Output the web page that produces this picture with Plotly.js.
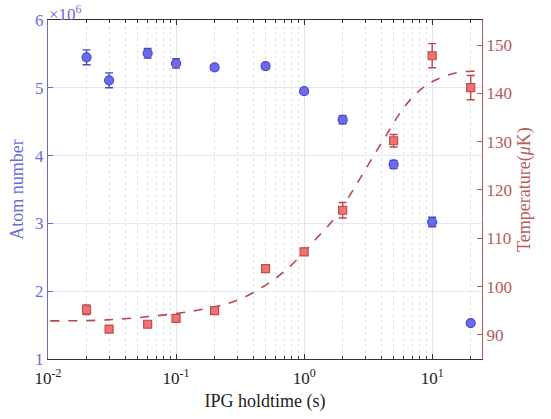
<!DOCTYPE html>
<html>
<head>
<meta charset="utf-8">
<script src="https://cdn.plot.ly/plotly-3.0.1.min.js"></script>
<style>html,body{margin:0;padding:0;background:#fff;}#chart{width:551px;height:419px;}</style>
</head>
<body>
<div id="chart"></div>
<script>
// Hold times (s)
const holdTime = [0.02, 0.03, 0.06, 0.1, 0.2, 0.5, 1, 2, 5, 10, 20];
// Atom number (x10^6)
const atomNumber = [5.45, 5.11, 5.51, 5.36, 5.30, 5.32, 4.95, 4.53, 3.87, 3.02, 1.53];
const atomErr    = [0.11, 0.11, 0.07, 0.07, 0.04, 0.04, 0.04, 0.06, 0.06, 0.07, 0.03];
// Temperature (uK)
const temperature = [95.2, 91.2, 92.2, 93.4, 95.0, 103.7, 107.2, 115.8, 130.2, 147.8, 141.2];
const tempErr     = [1.0, 0.5, 0.4, 0.6, 0.4, 0.5, 0.7, 1.6, 1.3, 2.5, 2.5];
// Fit curve
const fitX = [0.0104, 0.0288, 0.0948, 0.1945, 0.316, 0.542, 0.778, 0.989, 1.256, 1.694, 2.286, 2.738, 3.475, 4.426, 5.623, 7.145, 9.08, 11.55, 15.6, 21.04, 24.5];
const fitT = [92.9, 93.1, 94.35, 95.74, 97.4, 100.9, 104.2, 107.0, 110.05, 113.85, 119.0, 122.4, 127.0, 131.5, 136.0, 139.4, 141.8, 143.2, 144.3, 144.6, 144.6];
// Axis ticks
const xTickVals = [0.01, 0.1, 1, 10];
const xTickText = ['10<sup>-2</sup>', '10<sup>-1</sup>', '10<sup>0</sup>', '10<sup>1</sup>'];
const yLeftTicks = [1, 2, 3, 4, 5, 6];
const yRightTicks = [90, 100, 110, 120, 130, 140, 150];

const minorVals = [];
[0.01, 0.1, 1, 10].forEach(d => { for (let k = 2; k <= 9; k++) { if (d * k <= 24.5) minorVals.push(d * k); } });

const blue = '#6a6ad8';
const red = '#b85a5a';
const font = 'Liberation Serif, Times New Roman, serif';

const traces = [
  {
    x: fitX, y: fitT, yaxis: 'y2', mode: 'lines', type: 'scatter',
    line: {color: '#b94848', width: 1.6, dash: 'dash', shape: 'spline'},
    hoverinfo: 'skip', showlegend: false
  },
  {
    x: holdTime, y: temperature, yaxis: 'y2', mode: 'markers', type: 'scatter',
    marker: {symbol: 'square', size: 8, color: '#f07272', line: {color: '#c24c4c', width: 1.2}},
    error_y: {type: 'data', array: tempErr, visible: true, color: '#b84a4a', thickness: 1.4, width: 4},
    showlegend: false
  },
  {
    x: holdTime, y: atomNumber, yaxis: 'y', mode: 'markers', type: 'scatter',
    marker: {symbol: 'circle', size: 9, color: '#6b6bf0', line: {color: '#4b4bc0', width: 1.2}},
    error_y: {type: 'data', array: atomErr, visible: true, color: '#4a4ab8', thickness: 1.4, width: 4},
    showlegend: false
  }
];

const layout = {
  width: 551, height: 419,
  margin: {l: 48, r: 69, t: 20, b: 60},
  paper_bgcolor: '#fff', plot_bgcolor: '#fff',
  font: {family: font, size: 16, color: '#222'},
  xaxis: {
    type: 'log', range: [-2, Math.log10(24.5)],
    tickmode: 'array', tickvals: xTickVals, ticktext: xTickText,
    ticks: 'inside', ticklen: 5, tickcolor: '#333', tickwidth: 1,
    ticklabelstandoff: 4,
    showline: true, linecolor: '#333', linewidth: 1, mirror: 'ticks',
    showgrid: true, gridcolor: '#e4e4e4', gridwidth: 1,
    minor: {tickmode: 'array', tickvals: minorVals, ticks: 'inside', ticklen: 3, tickcolor: '#333',
            showgrid: true, gridcolor: '#e2e2e2', griddash: '3px,3px', gridwidth: 1},
    tickfont: {family: font, size: 17, color: '#222'},
    title: {text: 'IPG holdtime (s)', font: {family: font, size: 18, color: '#222'}, standoff: 6},
    zeroline: false
  },
  yaxis: {
    range: [1, 6], tickmode: 'array', tickvals: yLeftTicks,
    ticks: 'inside', ticklen: 5, tickcolor: blue,
    showline: true, linecolor: blue, linewidth: 1,
    showgrid: true, gridcolor: '#e6e6f3', gridwidth: 1,
    tickfont: {family: font, size: 17, color: blue},
    title: {text: 'Atom number', font: {family: font, size: 18, color: blue}, standoff: 6},
    zeroline: false
  },
  yaxis2: {
    overlaying: 'y', side: 'right',
    range: [85, 155.2], tickmode: 'array', tickvals: yRightTicks,
    ticks: 'inside', ticklen: 5, tickcolor: red,
    showline: true, linecolor: red, linewidth: 1,
    showgrid: false,
    tickfont: {family: font, size: 17, color: red},
    title: {text: 'Temperature(<i>μ</i>K)', font: {family: font, size: 18, color: red}, standoff: 6},
    zeroline: false
  },
  annotations: [
    {xref: 'paper', yref: 'paper', x: 0, y: 1, xanchor: 'left', yanchor: 'bottom', yshift: -6, xshift: -1,
     text: '×10<sup>6</sup>', showarrow: false, font: {family: font, size: 17, color: blue}}
  ]
};

Plotly.newPlot('chart', traces, layout, {displayModeBar: false, staticPlot: true});
</script>
</body>
</html>
